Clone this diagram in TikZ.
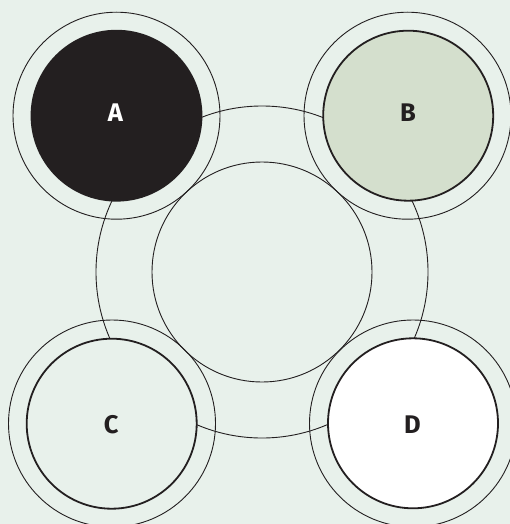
\documentclass[tikz,border=0pt]{standalone}
\usepackage{fontspec}
\setmainfont{Fira Sans}
\definecolor{bgmint}{RGB}{232,241,235}
\definecolor{sage}{RGB}{212,223,205}
\definecolor{ink}{RGB}{35,31,32}
\tikzset{
  thinline/.style={draw=ink, line width=0.9pt, fill=none},
  bigring/.style={circle, thinline, inner sep=0pt, minimum size=#1},
  halo/.style={circle, thinline, inner sep=0pt, minimum size=207pt},
  disk/.style={circle, draw=ink, line width=1.8pt, inner sep=0pt, minimum size=170pt},
  lab/.style={inner sep=0pt, anchor=base, font=\bfseries\fontsize{25.5}{25.5}\selectfont}
}
\begin{document}
\begin{tikzpicture}[x=1pt,y=-1pt]
\useasboundingbox (0,0) rectangle (510,524);
\fill[bgmint] (0,0) rectangle (510,524);
% central ring
\node[bigring=332pt] (ringout) at (262,272) {};
\node[bigring=220pt] (ringin) at (262,272) {};
% halos
\node[halo] (haloA) at (116.5,115.7) {};
\node[halo] (haloB) at (407.5,115.7) {};
\node[halo] (haloC) at (112,423.5) {};
\node[halo] (haloD) at (413,423.5) {};
% disks
\node[disk, fill=ink] (A) at (116.5,115.7) {};
\node[disk, fill=sage] (B) at (408.2,115.7) {};
\node[disk, fill=bgmint] (C) at (111.7,423.7) {};
\node[disk, fill=white] (D) at (413,423.3) {};
% labels
\node[lab, text=white] (labA) at (115.3,121.7) {A};
\node[lab, text=ink] (labB) at (408,121.7) {B};
\node[lab, text=ink] (labC) at (111.3,433.7) {C};
\node[lab, text=ink] (labD) at (412.5,433.7) {D};
\end{tikzpicture}
\end{document}
